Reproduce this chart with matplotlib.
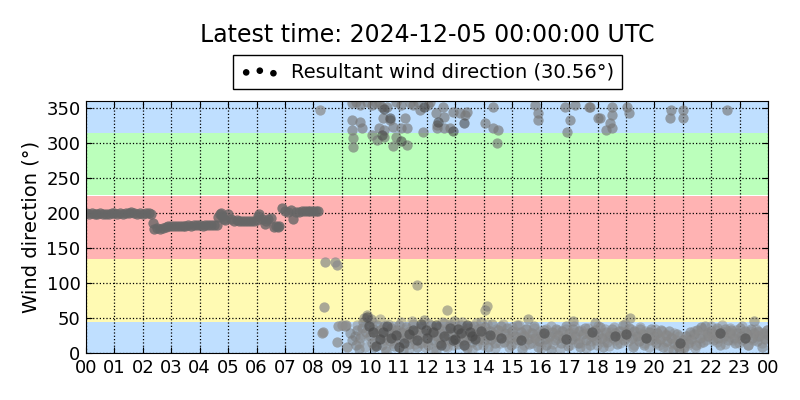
import matplotlib
matplotlib.use("Agg")
import matplotlib.pyplot as plt

# Resultant wind direction, hours since 00 UTC
# westerly-ish phase before 08 UTC
early_hours = [0.0, 0.1, 0.2, 0.3, 0.4, 0.5, 0.6, 0.7, 0.8, 0.9, 1.0, 1.1, 1.2, 1.3, 1.4,
               1.5, 1.6, 1.7, 1.8, 1.9, 2.0, 2.1, 2.2, 2.3,
               2.35, 2.4, 2.5, 2.6, 2.7, 2.8, 2.9, 3.0, 3.1, 3.2, 3.3, 3.4, 3.5, 3.6, 3.7,
               3.8, 3.9, 4.0, 4.1, 4.2, 4.3, 4.4, 4.5, 4.6,
               4.65, 4.7, 4.75, 4.8, 4.85, 4.9, 5.0, 5.1, 5.2, 5.3, 5.4, 5.5, 5.6, 5.7,
               5.8, 5.9, 6.0, 6.05, 6.1, 6.2, 6.3, 6.35, 6.4, 6.5, 6.6, 6.7, 6.75, 6.8,
               6.9, 7.0, 7.1, 7.2, 7.3, 7.4, 7.5, 7.6, 7.7, 7.8, 7.9, 8.0, 8.1, 8.17]
early_dir = [200, 199, 200, 199, 198, 200, 199, 199, 199, 200, 200, 199, 200, 199, 200,
             200, 201, 200, 199, 200, 199, 200, 200, 199,
             186, 177, 178, 177, 179, 180, 181, 181, 182, 182, 181, 182, 182, 183, 182,
             183, 183, 183, 182, 183, 183, 183, 183, 183,
             195, 199, 200, 196, 192, 190, 199, 192, 188, 190, 189, 188, 188, 189,
             188, 189, 190, 196, 199, 192, 184, 188, 191, 193, 180, 182, 180, 181,
             207, 203, 201, 204, 191, 202, 202, 203, 203, 203, 203, 203, 203, 203]

# transition around 08-09 UTC
mid_hours = [8.25, 8.3, 8.35, 8.38, 8.4, 8.77, 8.84, 8.84, 8.87, 9.0, 9.1, 9.15, 9.2]
mid_dir = [347, 29, 30, 66, 130, 130, 126, 16, 39, 40, 39, 40, 9]

# northerly points near 300-360
north_hours = [9.37, 9.5, 9.65, 9.37, 9.65, 9.7, 9.37, 9.4, 9.4, 10.07, 10.2, 10.4, 10.6,
               10.46, 10.7, 10.8, 10.3, 10.5, 10.07, 10.24, 10.5, 10.9, 10.8, 11.23,
               11.3, 11.1, 11.3, 11.1, 11.5, 11.76, 11.87, 12.04, 12.3, 12.35, 12.35,
               12.6, 12.8, 12.6, 12.9, 12.57, 13.17, 13.35, 13.4, 14.05, 14.33, 14.33,
               14.5, 14.47, 15.8, 15.9, 15.9, 16.87, 17.04, 16.93, 17.2, 17.75, 17.7,
               18.03, 18.5, 18.5, 18.1, 18.45, 18.5, 18.3, 19.05, 19.1, 20.6, 21.0,
               20.56, 21.0, 22.57, 9.9, 10.3, 10.9, 11.4, 11.7, 12.1]
north_dir = [357, 358, 354, 333, 330, 321, 318, 307, 294, 354, 357, 351, 351,
             336, 333, 323, 321, 318, 311, 304, 309, 309, 296, 336,
             321, 321, 297, 354, 354, 347, 316, 354, 343, 326, 321,
             321, 321, 337, 344, 351, 343, 340, 344, 329, 351, 321,
             318, 300, 354, 343, 333, 351, 333, 316, 354, 351, 351,
             336, 351, 340, 336, 329, 321, 318, 351, 343, 347, 347,
             336, 336, 347, 359, 359, 358, 357, 359, 358]

# main northeasterly cluster
low_hours = [9.3, 9.35, 9.45, 9.5, 9.55, 9.6, 9.65, 9.7, 9.75, 9.8, 9.85, 9.9, 9.95,
             10.0, 10.02, 10.05, 10.1, 10.15, 10.2, 10.25, 10.3, 10.35, 10.4, 10.45,
             10.5, 10.55, 10.6, 10.65, 10.7, 10.75, 10.8, 10.85, 10.9, 10.95, 11.0,
             11.05, 11.1, 11.15, 11.2, 11.25, 11.3, 11.35, 11.4, 11.45, 11.5, 11.55,
             11.6, 11.65, 11.65, 11.7, 11.75, 11.8, 11.85, 11.9, 11.95, 12.0, 12.05,
             12.1, 12.15, 12.2, 12.25, 12.3, 12.35, 12.4, 12.45, 12.5, 12.55, 12.6,
             12.65, 12.7, 12.7, 12.75, 12.8, 12.85, 12.9, 12.95, 13.0, 13.05, 13.1,
             13.15, 13.2, 13.25, 13.3, 13.35, 13.4, 13.45, 13.5, 13.55, 13.6, 13.65,
             13.7, 13.75, 13.8, 13.85, 13.9, 13.95, 14.0, 14.05, 14.05, 14.1, 14.1,
             14.15, 14.2, 14.25, 14.3, 14.35, 14.4, 14.5, 14.55, 14.6, 14.7, 14.75,
             14.8, 14.9, 14.95, 15.0, 15.1, 15.15, 15.2, 15.3, 15.35, 15.4, 15.5,
             15.55, 15.56, 15.6, 15.7, 15.75, 15.8, 15.9, 15.95, 16.0, 16.1, 16.15,
             16.2, 16.3, 16.35, 16.4, 16.5, 16.55, 16.6, 16.7, 16.75, 16.8, 16.9,
             16.95, 17.0, 17.1, 17.15, 17.15, 17.2, 17.3, 17.35, 17.4, 17.5, 17.55,
             17.6, 17.7, 17.75, 17.8, 17.9, 17.9, 17.95, 18.0, 18.1, 18.15, 18.2,
             18.3, 18.35, 18.4, 18.5, 18.55, 18.6, 18.7, 18.75, 18.8, 18.9, 18.95,
             19.0, 19.05, 19.1, 19.15, 19.2, 19.25, 19.3, 19.4, 19.45, 19.5, 19.6,
             19.65, 19.7, 19.8, 19.85, 19.9, 20.0, 20.05, 20.1, 20.2, 20.25, 20.3,
             20.4, 20.45, 20.5, 20.6, 20.65, 20.7, 20.8, 20.85, 20.9, 21.0, 21.05,
             21.1, 21.2, 21.25, 21.3, 21.4, 21.45, 21.5, 21.6, 21.65, 21.7, 21.8,
             21.85, 21.9, 22.0, 22.05, 22.1, 22.2, 22.25, 22.3, 22.4, 22.45, 22.5,
             22.6, 22.65, 22.7, 22.8, 22.85, 22.9, 23.0, 23.05, 23.1, 23.2, 23.25,
             23.3, 23.4, 23.45, 23.5, 23.5, 23.6, 23.65, 23.7, 23.8, 23.85, 23.9,
             23.95, 24.0]
low_dir = [28, 18, 24, 12, 33, 6, 21, 36, 45, 50, 30, 54, 41,
           25, 48, 15, 35, 8, 28, 40, 20, 33, 12, 26,
           38, 3, 22, 30, 17, 36, 28, 10, 33, 24, 40,
           18, 30, 5, 27, 37, 22, 13, 32, 25, 42, 19,
           31, 8, 97, 26, 36, 14, 29, 47, 21, 35, 11,
           27, 40, 18, 32, 4, 24, 37, 15, 29, 21, 43,
           10, 33, 61, 26, 38, 17, 30, 46, 22, 35, 13,
           28, 40, 19, 32, 25, 7, 36, 21, 30, 16, 39,
           27, 12, 34, 22, 44, 29, 18, 37, 61, 24, 67,
           9, 31, 20, 41, 27, 14, 33, 23, 38, 16, 29,
           36, 21, 11, 31, 25, 40, 18, 30, 6, 24, 35,
           20, 48, 13, 28, 38, 22, 9, 17, 27, 33, 20,
           12, 25, 4, 30, 19, 35, 26, 14, 31, 22, 38,
           10, 28, 20, 34, 46, 25, 15, 31, 8, 27, 36,
           19, 29, 12, 24, 33, 43, 18, 27, 37, 21, 9,
           30, 16, 25, 35, 22, 28, 13, 32, 24, 40, 19,
           30, 26, 36, 50, 21, 8, 31, 25, 17, 34, 27,
           12, 22, 30, 18, 35, 24, 14, 29, 20, 33, 9,
           26, 17, 31, 22, 5, 15, 27, 10, 3, 18, 8,
           24, 14, 30, 20, 27, 11, 33, 22, 37, 16, 39,
           29, 24, 32, 18, 27, 36, 21, 12, 30, 24, 35,
           19, 28, 33, 22, 14, 29, 36, 25, 18, 31, 27,
           12, 34, 22, 29, 46, 17, 31, 25, 9, 28, 20,
           33, 26]

# second pass over the same cluster (it is very dense)
low2_hours = [9.55, 9.62, 9.72, 9.82, 9.92, 9.97, 10.08, 10.12, 10.18, 10.28, 10.33,
              10.42, 10.48, 10.52, 10.62, 10.68, 10.78, 10.82, 10.88, 10.98, 11.02,
              11.08, 11.18, 11.22, 11.28, 11.38, 11.42, 11.48, 11.58, 11.62, 11.72,
              11.78, 11.82, 11.92, 11.98, 12.02, 12.12, 12.18, 12.22, 12.32, 12.38,
              12.42, 12.52, 12.58, 12.62, 12.72, 12.78, 12.82, 12.92, 12.98, 13.02,
              13.12, 13.18, 13.22, 13.32, 13.38, 13.42, 13.52, 13.58, 13.62, 13.72,
              13.78, 13.82, 13.92, 13.98, 14.02, 14.12, 14.22, 14.28, 14.38, 14.42,
              14.48, 14.58, 14.62, 14.68, 14.78, 14.82, 14.88, 14.98, 15.02, 15.08,
              15.18, 15.22, 15.28, 15.38, 15.42, 15.48, 15.58, 15.62, 15.68, 15.78,
              15.82, 15.88, 15.98, 16.02, 16.08, 16.18, 16.22, 16.28, 16.38, 16.42,
              16.48, 16.58, 16.62, 16.68, 16.78, 16.82, 16.88, 16.98, 17.02, 17.08,
              17.18, 17.22, 17.28, 17.38, 17.42, 17.48, 17.58, 17.62, 17.68, 17.78,
              17.82, 17.88, 17.98, 18.02, 18.08, 18.18, 18.22, 18.28, 18.38, 18.42,
              18.48, 18.58, 18.62, 18.68, 18.78, 18.82, 18.88, 18.98, 19.02, 19.08,
              19.18, 19.22, 19.28, 19.38, 19.42, 19.48, 19.58, 19.62, 19.68, 19.78,
              19.82, 19.88, 19.98, 20.02, 20.08, 20.18, 20.22, 20.28, 20.38, 20.42,
              20.48, 20.58, 20.62, 20.68, 20.78, 20.82, 20.88, 20.98, 21.02, 21.08,
              21.18, 21.22, 21.28, 21.38, 21.42, 21.48, 21.58, 21.62, 21.68, 21.78,
              21.82, 21.88, 21.98, 22.02, 22.08, 22.18, 22.22, 22.28, 22.38, 22.42,
              22.48, 22.58, 22.62, 22.68, 22.78, 22.82, 22.88, 22.98, 23.02, 23.08,
              23.18, 23.22, 23.28, 23.38, 23.42, 23.48, 23.58, 23.62, 23.68, 23.78,
              23.82, 23.88, 23.98]
low2_dir = [40, 15, 27, 8, 36, 22, 44, 30, 11, 25, 48, 34, 19, 7, 41, 26, 14, 38,
            21, 31, 9, 44, 17, 29, 35, 6, 24, 46, 13, 33, 20, 39, 27, 9, 16, 43,
            31, 24, 6, 37, 14, 28, 45, 19, 34, 8, 25, 41, 12, 30, 38, 17, 26, 44,
            10, 33, 22, 39, 5, 29, 43, 18, 26, 36, 11, 31, 42, 19, 28, 7, 35, 24,
            15, 32, 41, 20, 27, 9, 37, 23, 14, 30, 40, 18, 26, 11, 34, 22, 29, 15,
            36, 24, 19, 31, 7, 27, 35, 16, 23, 38, 13, 29, 21, 33, 6, 26, 18, 35,
            24, 11, 30, 38, 20, 27, 14, 33, 22, 7, 29, 36, 17, 25, 31, 12, 39, 21,
            28, 16, 34, 23, 10, 30, 37, 19, 26, 14, 32, 22, 42, 28, 17, 35, 24, 11,
            30, 20, 37, 26, 15, 32, 23, 8, 29, 18, 34, 25, 12, 21, 31, 16, 27, 6,
            23, 13, 28, 19, 10, 24, 14, 4, 20, 12, 26, 17, 32, 7, 22, 28, 15, 35,
            24, 19, 30, 38, 26, 21, 33, 16, 28, 40, 22, 13, 31, 25, 36, 19, 27, 33,
            15, 23, 38, 29, 21, 12, 32, 26, 18, 35, 24, 30, 14, 27, 21, 33]

# darker (stronger wind) points
dark_hours = [9.9, 10.1, 10.35, 10.6, 10.9, 11.2, 11.5, 11.8, 12.0, 12.2, 12.5, 12.8,
              13.0, 13.2, 13.4, 13.6, 10.4, 10.7, 11.1, 12.4, 12.9, 13.3, 11.9, 10.5,
              9.95, 10.2, 10.45, 10.75, 11.0, 11.35, 11.65, 11.95, 12.3, 12.6, 12.9,
              13.1, 13.3, 13.5, 13.7, 13.9, 14.2, 14.6, 15.3, 16.1, 16.9, 17.8, 18.6,
              19.0, 19.7, 20.9, 22.3, 23.2]
dark_dir = [52, 30, 20, 38, 26, 15, 33, 42, 22, 30, 12, 36,
            20, 28, 40, 24, 311, 336, 303, 330, 317, 328, 352, 349,
            38, 10, 30, 22, 8, 27, 18, 33, 40, 25, 18,
            34, 12, 30, 20, 32, 26, 22, 18, 28, 20, 30, 24,
            27, 22, 15, 29, 21]

bands = [(0, 45, "#bfdfff"), (45, 135, "#fffab3"), (135, 225, "#ffb3b3"),
         (225, 315, "#bbffbb"), (315, 360, "#bfdfff")]
hour_ticks = list(range(0, 25))
mean_dir = 30.56

fig = plt.figure(figsize=(8, 4), dpi=100)
ax = fig.add_axes([0.1075, 0.1175, 0.8525, 0.63])

for lo, hi, col in bands:
    ax.axhspan(lo, hi, color=col, lw=0, zorder=0)

pt_style = dict(s=55, linewidths=0, zorder=3)
ax.scatter(early_hours, early_dir, color="#666666", alpha=0.8, **pt_style)
ax.scatter(mid_hours, mid_dir, color="#8c8c8c", alpha=0.75, **pt_style)
ax.scatter(north_hours, north_dir, color="#777777", alpha=0.65, **pt_style)
ax.scatter(low_hours, low_dir, color="#777777", alpha=0.55, **pt_style)
ax.scatter(low2_hours, low2_dir, color="#8a8a8a", alpha=0.5, **pt_style)
ax.scatter(dark_hours, dark_dir, color="#484848", alpha=0.6, **pt_style)

ax.set_xlim(0, 24)
ax.set_ylim(0, 360)
ax.set_xticks(hour_ticks)
ax.set_xticklabels(["%02d" % (h % 24) for h in hour_ticks])
ax.set_yticks(range(0, 351, 50))
ax.tick_params(direction="in", length=4, top=True, right=True, labelsize=13, pad=4)
ax.grid(True, color="black", linestyle=":", linewidth=0.9, zorder=1)
ax.set_axisbelow(False)
for sp in ax.spines.values():
    sp.set_zorder(5)
ax.set_ylabel("Wind direction (°)", fontsize=14)

fig.text(0.534, 0.9125, "Latest time: 2024-12-05 00:00:00 UTC", ha="center", va="center",
         fontsize=17)
proxy = ax.scatter([], [], s=14, color="black", marker="o")
fig.legend([proxy], ["Resultant wind direction (%.2f°)" % mean_dir], loc="center",
           bbox_to_anchor=(0.534, 0.82), scatterpoints=3, fontsize=14, fancybox=False,
           edgecolor="black", framealpha=1, borderpad=0.4, handletextpad=0.6)

fig.savefig("out.png", dpi=100)
